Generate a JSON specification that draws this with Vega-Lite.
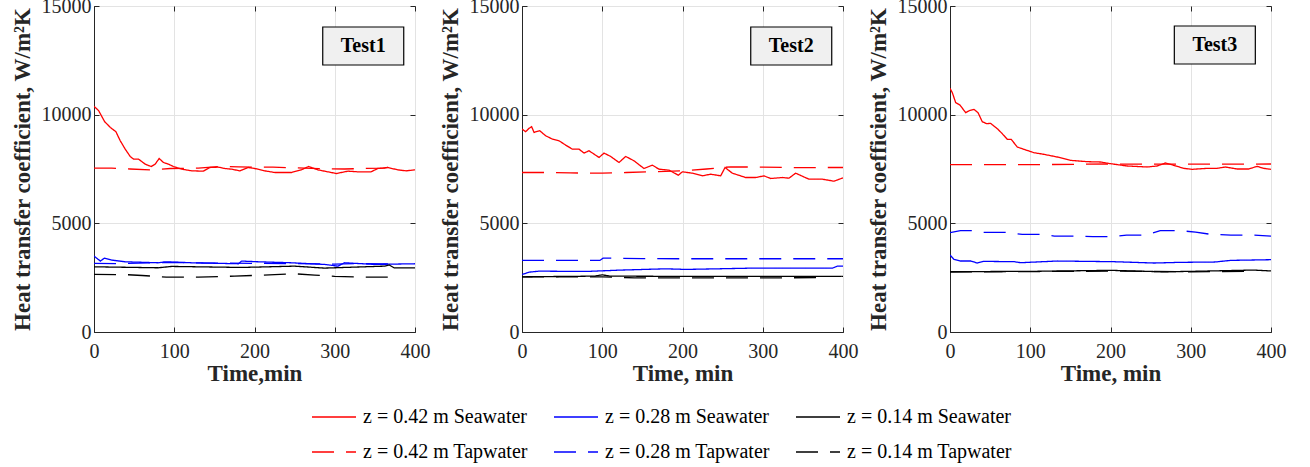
{
  "$schema": "https://vega.github.io/schema/vega-lite/v6.json",
  "padding": {"left": 10, "top": -5, "right": 5, "bottom": 5},
  "spacing": 107,
  "bounds": "flush",
  "config": {
    "view": {"stroke": "#262626", "strokeWidth": 1},
    "axis": {
      "labelFont": "Liberation Serif", "labelFontSize": 20, "labelColor": "#262626",
      "titleFont": "Liberation Serif", "titleFontSize": 23, "titleFontWeight": "bold", "titleColor": "#262626",
      "domainColor": "#262626", "tickColor": "#262626", "tickSize": -5,
      "gridColor": "#e3e3e3", "grid": true
    },
    "axisY": {"titlePadding": 7, "labelPadding": 8},
    "axisX": {"titlePadding": 1, "labelPadding": 14, "labelFlush": false}
  },
  "datasets": {
    "labels": [
      {"test": "Test1", "x": 335.5, "y": 13160},
      {"test": "Test2", "x": 335.5, "y": 13160},
      {"test": "Test3", "x": 330, "y": 13206}
    ],
    "series": [
      {"test":"Test1","series":"z = 0.42 m Seawater","t":0,"h":10385},
      {"test":"Test1","series":"z = 0.42 m Seawater","t":5.8,"h":10185},
      {"test":"Test1","series":"z = 0.42 m Seawater","t":13.3,"h":9677},
      {"test":"Test1","series":"z = 0.42 m Seawater","t":20.3,"h":9415},
      {"test":"Test1","series":"z = 0.42 m Seawater","t":27.3,"h":9215},
      {"test":"Test1","series":"z = 0.42 m Seawater","t":32.7,"h":8800},
      {"test":"Test1","series":"z = 0.42 m Seawater","t":38.9,"h":8415},
      {"test":"Test1","series":"z = 0.42 m Seawater","t":45.1,"h":8077},
      {"test":"Test1","series":"z = 0.42 m Seawater","t":49.3,"h":7954},
      {"test":"Test1","series":"z = 0.42 m Seawater","t":55.5,"h":7954},
      {"test":"Test1","series":"z = 0.42 m Seawater","t":63.8,"h":7723},
      {"test":"Test1","series":"z = 0.42 m Seawater","t":71.2,"h":7615},
      {"test":"Test1","series":"z = 0.42 m Seawater","t":76.2,"h":7723},
      {"test":"Test1","series":"z = 0.42 m Seawater","t":81.2,"h":7985},
      {"test":"Test1","series":"z = 0.42 m Seawater","t":86.5,"h":7800},
      {"test":"Test1","series":"z = 0.42 m Seawater","t":92.8,"h":7723},
      {"test":"Test1","series":"z = 0.42 m Seawater","t":99,"h":7615},
      {"test":"Test1","series":"z = 0.42 m Seawater","t":109.3,"h":7492},
      {"test":"Test1","series":"z = 0.42 m Seawater","t":121.7,"h":7415},
      {"test":"Test1","series":"z = 0.42 m Seawater","t":136.2,"h":7400},
      {"test":"Test1","series":"z = 0.42 m Seawater","t":144.5,"h":7570},
      {"test":"Test1","series":"z = 0.42 m Seawater","t":154.9,"h":7585},
      {"test":"Test1","series":"z = 0.42 m Seawater","t":163.1,"h":7523},
      {"test":"Test1","series":"z = 0.42 m Seawater","t":171.4,"h":7492},
      {"test":"Test1","series":"z = 0.42 m Seawater","t":181.8,"h":7415},
      {"test":"Test1","series":"z = 0.42 m Seawater","t":192.1,"h":7570},
      {"test":"Test1","series":"z = 0.42 m Seawater","t":200.4,"h":7523},
      {"test":"Test1","series":"z = 0.42 m Seawater","t":212.8,"h":7415},
      {"test":"Test1","series":"z = 0.42 m Seawater","t":225.3,"h":7338},
      {"test":"Test1","series":"z = 0.42 m Seawater","t":246,"h":7338},
      {"test":"Test1","series":"z = 0.42 m Seawater","t":258.4,"h":7461},
      {"test":"Test1","series":"z = 0.42 m Seawater","t":267.5,"h":7615},
      {"test":"Test1","series":"z = 0.42 m Seawater","t":279,"h":7461},
      {"test":"Test1","series":"z = 0.42 m Seawater","t":291.5,"h":7370},
      {"test":"Test1","series":"z = 0.42 m Seawater","t":301.9,"h":7292},
      {"test":"Test1","series":"z = 0.42 m Seawater","t":316.4,"h":7400},
      {"test":"Test1","series":"z = 0.42 m Seawater","t":328.8,"h":7370},
      {"test":"Test1","series":"z = 0.42 m Seawater","t":345.3,"h":7370},
      {"test":"Test1","series":"z = 0.42 m Seawater","t":353.6,"h":7523},
      {"test":"Test1","series":"z = 0.42 m Seawater","t":366,"h":7570},
      {"test":"Test1","series":"z = 0.42 m Seawater","t":378.5,"h":7461},
      {"test":"Test1","series":"z = 0.42 m Seawater","t":388.8,"h":7415},
      {"test":"Test1","series":"z = 0.42 m Seawater","t":400,"h":7461},

      {"test":"Test1","series":"z = 0.42 m Tapwater","t":0,"h":7540},
      {"test":"Test1","series":"z = 0.42 m Tapwater","t":22,"h":7540},
      {"test":"Test1","series":"z = 0.42 m Tapwater","t":45,"h":7500},
      {"test":"Test1","series":"z = 0.42 m Tapwater","t":70,"h":7462},
      {"test":"Test1","series":"z = 0.42 m Tapwater","t":95,"h":7523},
      {"test":"Test1","series":"z = 0.42 m Tapwater","t":130,"h":7540},
      {"test":"Test1","series":"z = 0.42 m Tapwater","t":155,"h":7615},
      {"test":"Test1","series":"z = 0.42 m Tapwater","t":180,"h":7600},
      {"test":"Test1","series":"z = 0.42 m Tapwater","t":200,"h":7585},
      {"test":"Test1","series":"z = 0.42 m Tapwater","t":223,"h":7585},
      {"test":"Test1","series":"z = 0.42 m Tapwater","t":250,"h":7555},
      {"test":"Test1","series":"z = 0.42 m Tapwater","t":280,"h":7520},
      {"test":"Test1","series":"z = 0.42 m Tapwater","t":312,"h":7500},
      {"test":"Test1","series":"z = 0.42 m Tapwater","t":337,"h":7523},
      {"test":"Test1","series":"z = 0.42 m Tapwater","t":362,"h":7540},
      {"test":"Test1","series":"z = 0.42 m Tapwater","t":380,"h":7677},

      {"test":"Test1","series":"z = 0.28 m Seawater","t":0,"h":3494},
      {"test":"Test1","series":"z = 0.28 m Seawater","t":8,"h":3263},
      {"test":"Test1","series":"z = 0.28 m Seawater","t":13,"h":3400},
      {"test":"Test1","series":"z = 0.28 m Seawater","t":22,"h":3310},
      {"test":"Test1","series":"z = 0.28 m Seawater","t":39,"h":3230},
      {"test":"Test1","series":"z = 0.28 m Seawater","t":80,"h":3185},
      {"test":"Test1","series":"z = 0.28 m Seawater","t":89,"h":3230},
      {"test":"Test1","series":"z = 0.28 m Seawater","t":122,"h":3185},
      {"test":"Test1","series":"z = 0.28 m Seawater","t":180,"h":3140},
      {"test":"Test1","series":"z = 0.28 m Seawater","t":184,"h":3263},
      {"test":"Test1","series":"z = 0.28 m Seawater","t":205,"h":3230},
      {"test":"Test1","series":"z = 0.28 m Seawater","t":246,"h":3185},
      {"test":"Test1","series":"z = 0.28 m Seawater","t":287,"h":3110},
      {"test":"Test1","series":"z = 0.28 m Seawater","t":304,"h":3030},
      {"test":"Test1","series":"z = 0.28 m Seawater","t":312,"h":3185},
      {"test":"Test1","series":"z = 0.28 m Seawater","t":350,"h":3110},
      {"test":"Test1","series":"z = 0.28 m Seawater","t":400,"h":3140},

      {"test":"Test1","series":"z = 0.28 m Tapwater","t":0,"h":3155},
      {"test":"Test1","series":"z = 0.28 m Tapwater","t":30,"h":3150},
      {"test":"Test1","series":"z = 0.28 m Tapwater","t":100,"h":3200},
      {"test":"Test1","series":"z = 0.28 m Tapwater","t":150,"h":3170},
      {"test":"Test1","series":"z = 0.28 m Tapwater","t":200,"h":3160},
      {"test":"Test1","series":"z = 0.28 m Tapwater","t":250,"h":3150},
      {"test":"Test1","series":"z = 0.28 m Tapwater","t":300,"h":3120},
      {"test":"Test1","series":"z = 0.28 m Tapwater","t":330,"h":3150},
      {"test":"Test1","series":"z = 0.28 m Tapwater","t":380,"h":3120},

      {"test":"Test1","series":"z = 0.14 m Seawater","t":0,"h":3000},
      {"test":"Test1","series":"z = 0.14 m Seawater","t":80,"h":2955},
      {"test":"Test1","series":"z = 0.14 m Seawater","t":97,"h":3017},
      {"test":"Test1","series":"z = 0.14 m Seawater","t":184,"h":2970},
      {"test":"Test1","series":"z = 0.14 m Seawater","t":250,"h":3030},
      {"test":"Test1","series":"z = 0.14 m Seawater","t":287,"h":2940},
      {"test":"Test1","series":"z = 0.14 m Seawater","t":362,"h":3030},
      {"test":"Test1","series":"z = 0.14 m Seawater","t":368,"h":3080},
      {"test":"Test1","series":"z = 0.14 m Seawater","t":374,"h":2955},
      {"test":"Test1","series":"z = 0.14 m Seawater","t":400,"h":2955},

      {"test":"Test1","series":"z = 0.14 m Tapwater","t":0,"h":2648},
      {"test":"Test1","series":"z = 0.14 m Tapwater","t":40,"h":2640},
      {"test":"Test1","series":"z = 0.14 m Tapwater","t":60,"h":2600},
      {"test":"Test1","series":"z = 0.14 m Tapwater","t":90,"h":2525},
      {"test":"Test1","series":"z = 0.14 m Tapwater","t":130,"h":2525},
      {"test":"Test1","series":"z = 0.14 m Tapwater","t":175,"h":2570},
      {"test":"Test1","series":"z = 0.14 m Tapwater","t":225,"h":2640},
      {"test":"Test1","series":"z = 0.14 m Tapwater","t":250,"h":2678},
      {"test":"Test1","series":"z = 0.14 m Tapwater","t":275,"h":2620},
      {"test":"Test1","series":"z = 0.14 m Tapwater","t":300,"h":2560},
      {"test":"Test1","series":"z = 0.14 m Tapwater","t":330,"h":2525},
      {"test":"Test1","series":"z = 0.14 m Tapwater","t":380,"h":2525},

      {"test":"Test2","series":"z = 0.42 m Seawater","t":0,"h":9339},
      {"test":"Test2","series":"z = 0.42 m Seawater","t":4.6,"h":9215},
      {"test":"Test2","series":"z = 0.42 m Seawater","t":8.7,"h":9370},
      {"test":"Test2","series":"z = 0.42 m Seawater","t":12,"h":9446},
      {"test":"Test2","series":"z = 0.42 m Seawater","t":15,"h":9185},
      {"test":"Test2","series":"z = 0.42 m Seawater","t":22,"h":9262},
      {"test":"Test2","series":"z = 0.42 m Seawater","t":29.5,"h":9031},
      {"test":"Test2","series":"z = 0.42 m Seawater","t":37.8,"h":8877},
      {"test":"Test2","series":"z = 0.42 m Seawater","t":46.1,"h":8800},
      {"test":"Test2","series":"z = 0.42 m Seawater","t":54.4,"h":8600},
      {"test":"Test2","series":"z = 0.42 m Seawater","t":62.7,"h":8415},
      {"test":"Test2","series":"z = 0.42 m Seawater","t":71,"h":8415},
      {"test":"Test2","series":"z = 0.42 m Seawater","t":77.3,"h":8231},
      {"test":"Test2","series":"z = 0.42 m Seawater","t":83.5,"h":8339},
      {"test":"Test2","series":"z = 0.42 m Seawater","t":96,"h":8031},
      {"test":"Test2","series":"z = 0.42 m Seawater","t":102.2,"h":8231},
      {"test":"Test2","series":"z = 0.42 m Seawater","t":110.5,"h":8077},
      {"test":"Test2","series":"z = 0.42 m Seawater","t":120.9,"h":7800},
      {"test":"Test2","series":"z = 0.42 m Seawater","t":129.2,"h":8077},
      {"test":"Test2","series":"z = 0.42 m Seawater","t":139.6,"h":7877},
      {"test":"Test2","series":"z = 0.42 m Seawater","t":152,"h":7523},
      {"test":"Test2","series":"z = 0.42 m Seawater","t":162.4,"h":7677},
      {"test":"Test2","series":"z = 0.42 m Seawater","t":170.7,"h":7492},
      {"test":"Test2","series":"z = 0.42 m Seawater","t":183.2,"h":7446},
      {"test":"Test2","series":"z = 0.42 m Seawater","t":194.8,"h":7215},
      {"test":"Test2","series":"z = 0.42 m Seawater","t":199.8,"h":7370},
      {"test":"Test2","series":"z = 0.42 m Seawater","t":212.3,"h":7308},
      {"test":"Test2","series":"z = 0.42 m Seawater","t":224.7,"h":7185},
      {"test":"Test2","series":"z = 0.42 m Seawater","t":235.1,"h":7262},
      {"test":"Test2","series":"z = 0.42 m Seawater","t":247.6,"h":7185},
      {"test":"Test2","series":"z = 0.42 m Seawater","t":253,"h":7569},
      {"test":"Test2","series":"z = 0.42 m Seawater","t":262.1,"h":7308},
      {"test":"Test2","series":"z = 0.42 m Seawater","t":278.7,"h":7108},
      {"test":"Test2","series":"z = 0.42 m Seawater","t":291.2,"h":7108},
      {"test":"Test2","series":"z = 0.42 m Seawater","t":301.6,"h":7185},
      {"test":"Test2","series":"z = 0.42 m Seawater","t":309.9,"h":7062},
      {"test":"Test2","series":"z = 0.42 m Seawater","t":324.4,"h":7108},
      {"test":"Test2","series":"z = 0.42 m Seawater","t":332.7,"h":7077},
      {"test":"Test2","series":"z = 0.42 m Seawater","t":341,"h":7308},
      {"test":"Test2","series":"z = 0.42 m Seawater","t":357.6,"h":7031},
      {"test":"Test2","series":"z = 0.42 m Seawater","t":374.3,"h":7031},
      {"test":"Test2","series":"z = 0.42 m Seawater","t":388.8,"h":6939},
      {"test":"Test2","series":"z = 0.42 m Seawater","t":400,"h":7092},

      {"test":"Test2","series":"z = 0.42 m Tapwater","t":0,"h":7339},
      {"test":"Test2","series":"z = 0.42 m Tapwater","t":30,"h":7339},
      {"test":"Test2","series":"z = 0.42 m Tapwater","t":60,"h":7320},
      {"test":"Test2","series":"z = 0.42 m Tapwater","t":100,"h":7308},
      {"test":"Test2","series":"z = 0.42 m Tapwater","t":130,"h":7340},
      {"test":"Test2","series":"z = 0.42 m Tapwater","t":160,"h":7370},
      {"test":"Test2","series":"z = 0.42 m Tapwater","t":200,"h":7415},
      {"test":"Test2","series":"z = 0.42 m Tapwater","t":230,"h":7500},
      {"test":"Test2","series":"z = 0.42 m Tapwater","t":260,"h":7600},
      {"test":"Test2","series":"z = 0.42 m Tapwater","t":300,"h":7585},
      {"test":"Test2","series":"z = 0.42 m Tapwater","t":340,"h":7560},
      {"test":"Test2","series":"z = 0.42 m Tapwater","t":380,"h":7570},
      {"test":"Test2","series":"z = 0.42 m Tapwater","t":400,"h":7570},

      {"test":"Test2","series":"z = 0.28 m Seawater","t":0,"h":2646},
      {"test":"Test2","series":"z = 0.28 m Seawater","t":9,"h":2754},
      {"test":"Test2","series":"z = 0.28 m Seawater","t":21,"h":2800},
      {"test":"Test2","series":"z = 0.28 m Seawater","t":80,"h":2785},
      {"test":"Test2","series":"z = 0.28 m Seawater","t":121,"h":2846},
      {"test":"Test2","series":"z = 0.28 m Seawater","t":179,"h":2908},
      {"test":"Test2","series":"z = 0.28 m Seawater","t":204,"h":2880},
      {"test":"Test2","series":"z = 0.28 m Seawater","t":245,"h":2908},
      {"test":"Test2","series":"z = 0.28 m Seawater","t":287,"h":2939},
      {"test":"Test2","series":"z = 0.28 m Seawater","t":387,"h":2939},
      {"test":"Test2","series":"z = 0.28 m Seawater","t":393,"h":3031},
      {"test":"Test2","series":"z = 0.28 m Seawater","t":400,"h":3031},

      {"test":"Test2","series":"z = 0.28 m Tapwater","t":0,"h":3294},
      {"test":"Test2","series":"z = 0.28 m Tapwater","t":97,"h":3294},
      {"test":"Test2","series":"z = 0.28 m Tapwater","t":101,"h":3400},
      {"test":"Test2","series":"z = 0.28 m Tapwater","t":150,"h":3380},
      {"test":"Test2","series":"z = 0.28 m Tapwater","t":200,"h":3370},
      {"test":"Test2","series":"z = 0.28 m Tapwater","t":300,"h":3370},
      {"test":"Test2","series":"z = 0.28 m Tapwater","t":400,"h":3370},

      {"test":"Test2","series":"z = 0.14 m Seawater","t":0,"h":2539},
      {"test":"Test2","series":"z = 0.14 m Seawater","t":90,"h":2570},
      {"test":"Test2","series":"z = 0.14 m Seawater","t":100,"h":2631},
      {"test":"Test2","series":"z = 0.14 m Seawater","t":110,"h":2570},
      {"test":"Test2","series":"z = 0.14 m Seawater","t":200,"h":2560},
      {"test":"Test2","series":"z = 0.14 m Seawater","t":300,"h":2555},
      {"test":"Test2","series":"z = 0.14 m Seawater","t":400,"h":2555},

      {"test":"Test2","series":"z = 0.14 m Tapwater","t":0,"h":2540},
      {"test":"Test2","series":"z = 0.14 m Tapwater","t":100,"h":2540},
      {"test":"Test2","series":"z = 0.14 m Tapwater","t":140,"h":2492},
      {"test":"Test2","series":"z = 0.14 m Tapwater","t":200,"h":2492},
      {"test":"Test2","series":"z = 0.14 m Tapwater","t":300,"h":2492},
      {"test":"Test2","series":"z = 0.14 m Tapwater","t":380,"h":2500},

      {"test":"Test3","series":"z = 0.42 m Seawater","t":0,"h":11212},
      {"test":"Test3","series":"z = 0.42 m Seawater","t":2.9,"h":11012},
      {"test":"Test3","series":"z = 0.42 m Seawater","t":7.1,"h":10552},
      {"test":"Test3","series":"z = 0.42 m Seawater","t":12.4,"h":10445},
      {"test":"Test3","series":"z = 0.42 m Seawater","t":19.5,"h":10092},
      {"test":"Test3","series":"z = 0.42 m Seawater","t":24.9,"h":10199},
      {"test":"Test3","series":"z = 0.42 m Seawater","t":29.9,"h":10245},
      {"test":"Test3","series":"z = 0.42 m Seawater","t":34.9,"h":10092},
      {"test":"Test3","series":"z = 0.42 m Seawater","t":40.2,"h":9678},
      {"test":"Test3","series":"z = 0.42 m Seawater","t":45.6,"h":9586},
      {"test":"Test3","series":"z = 0.42 m Seawater","t":50.6,"h":9600},
      {"test":"Test3","series":"z = 0.42 m Seawater","t":58.9,"h":9356},
      {"test":"Test3","series":"z = 0.42 m Seawater","t":65.1,"h":9126},
      {"test":"Test3","series":"z = 0.42 m Seawater","t":71.4,"h":8865},
      {"test":"Test3","series":"z = 0.42 m Seawater","t":76.3,"h":8865},
      {"test":"Test3","series":"z = 0.42 m Seawater","t":83.8,"h":8512},
      {"test":"Test3","series":"z = 0.42 m Seawater","t":92.1,"h":8405},
      {"test":"Test3","series":"z = 0.42 m Seawater","t":104.6,"h":8251},
      {"test":"Test3","series":"z = 0.42 m Seawater","t":117,"h":8175},
      {"test":"Test3","series":"z = 0.42 m Seawater","t":133.6,"h":8052},
      {"test":"Test3","series":"z = 0.42 m Seawater","t":150.2,"h":7898},
      {"test":"Test3","series":"z = 0.42 m Seawater","t":171,"h":7837},
      {"test":"Test3","series":"z = 0.42 m Seawater","t":187.6,"h":7822},
      {"test":"Test3","series":"z = 0.42 m Seawater","t":200,"h":7745},
      {"test":"Test3","series":"z = 0.42 m Seawater","t":220.7,"h":7638},
      {"test":"Test3","series":"z = 0.42 m Seawater","t":245.6,"h":7592},
      {"test":"Test3","series":"z = 0.42 m Seawater","t":258.1,"h":7638},
      {"test":"Test3","series":"z = 0.42 m Seawater","t":268.5,"h":7776},
      {"test":"Test3","series":"z = 0.42 m Seawater","t":278.8,"h":7669},
      {"test":"Test3","series":"z = 0.42 m Seawater","t":291.3,"h":7530},
      {"test":"Test3","series":"z = 0.42 m Seawater","t":301.7,"h":7484},
      {"test":"Test3","series":"z = 0.42 m Seawater","t":320.3,"h":7530},
      {"test":"Test3","series":"z = 0.42 m Seawater","t":332.8,"h":7530},
      {"test":"Test3","series":"z = 0.42 m Seawater","t":343.2,"h":7592},
      {"test":"Test3","series":"z = 0.42 m Seawater","t":357.7,"h":7500},
      {"test":"Test3","series":"z = 0.42 m Seawater","t":372.2,"h":7500},
      {"test":"Test3","series":"z = 0.42 m Seawater","t":382.6,"h":7622},
      {"test":"Test3","series":"z = 0.42 m Seawater","t":390.9,"h":7530},
      {"test":"Test3","series":"z = 0.42 m Seawater","t":400,"h":7484},

      {"test":"Test3","series":"z = 0.42 m Tapwater","t":0,"h":7700},
      {"test":"Test3","series":"z = 0.42 m Tapwater","t":100,"h":7700},
      {"test":"Test3","series":"z = 0.42 m Tapwater","t":200,"h":7730},
      {"test":"Test3","series":"z = 0.42 m Tapwater","t":300,"h":7720},
      {"test":"Test3","series":"z = 0.42 m Tapwater","t":400,"h":7730},

      {"test":"Test3","series":"z = 0.28 m Seawater","t":0,"h":3542},
      {"test":"Test3","series":"z = 0.28 m Seawater","t":5,"h":3342},
      {"test":"Test3","series":"z = 0.28 m Seawater","t":13,"h":3266},
      {"test":"Test3","series":"z = 0.28 m Seawater","t":26,"h":3266},
      {"test":"Test3","series":"z = 0.28 m Seawater","t":34,"h":3174},
      {"test":"Test3","series":"z = 0.28 m Seawater","t":42,"h":3250},
      {"test":"Test3","series":"z = 0.28 m Seawater","t":80,"h":3235},
      {"test":"Test3","series":"z = 0.28 m Seawater","t":88,"h":3189},
      {"test":"Test3","series":"z = 0.28 m Seawater","t":134,"h":3266},
      {"test":"Test3","series":"z = 0.28 m Seawater","t":204,"h":3235},
      {"test":"Test3","series":"z = 0.28 m Seawater","t":254,"h":3174},
      {"test":"Test3","series":"z = 0.28 m Seawater","t":287,"h":3205},
      {"test":"Test3","series":"z = 0.28 m Seawater","t":330,"h":3220},
      {"test":"Test3","series":"z = 0.28 m Seawater","t":350,"h":3296},
      {"test":"Test3","series":"z = 0.28 m Seawater","t":400,"h":3327},

      {"test":"Test3","series":"z = 0.28 m Tapwater","t":0,"h":4570},
      {"test":"Test3","series":"z = 0.28 m Tapwater","t":13,"h":4662},
      {"test":"Test3","series":"z = 0.28 m Tapwater","t":28,"h":4662},
      {"test":"Test3","series":"z = 0.28 m Tapwater","t":42,"h":4585},
      {"test":"Test3","series":"z = 0.28 m Tapwater","t":70,"h":4585},
      {"test":"Test3","series":"z = 0.28 m Tapwater","t":90,"h":4493},
      {"test":"Test3","series":"z = 0.28 m Tapwater","t":115,"h":4493},
      {"test":"Test3","series":"z = 0.28 m Tapwater","t":130,"h":4416},
      {"test":"Test3","series":"z = 0.28 m Tapwater","t":160,"h":4416},
      {"test":"Test3","series":"z = 0.28 m Tapwater","t":178,"h":4386},
      {"test":"Test3","series":"z = 0.28 m Tapwater","t":202,"h":4386},
      {"test":"Test3","series":"z = 0.28 m Tapwater","t":220,"h":4462},
      {"test":"Test3","series":"z = 0.28 m Tapwater","t":245,"h":4462},
      {"test":"Test3","series":"z = 0.28 m Tapwater","t":262,"h":4662},
      {"test":"Test3","series":"z = 0.28 m Tapwater","t":287,"h":4662},
      {"test":"Test3","series":"z = 0.28 m Tapwater","t":306,"h":4600},
      {"test":"Test3","series":"z = 0.28 m Tapwater","t":325,"h":4493},
      {"test":"Test3","series":"z = 0.28 m Tapwater","t":350,"h":4462},
      {"test":"Test3","series":"z = 0.28 m Tapwater","t":376,"h":4462},
      {"test":"Test3","series":"z = 0.28 m Tapwater","t":400,"h":4416},

      {"test":"Test3","series":"z = 0.14 m Seawater","t":0,"h":2775},
      {"test":"Test3","series":"z = 0.14 m Seawater","t":100,"h":2790},
      {"test":"Test3","series":"z = 0.14 m Seawater","t":200,"h":2837},
      {"test":"Test3","series":"z = 0.14 m Seawater","t":266,"h":2770},
      {"test":"Test3","series":"z = 0.14 m Seawater","t":300,"h":2790},
      {"test":"Test3","series":"z = 0.14 m Seawater","t":378,"h":2850},
      {"test":"Test3","series":"z = 0.14 m Seawater","t":400,"h":2810},

      {"test":"Test3","series":"z = 0.14 m Tapwater","t":0,"h":2760},
      {"test":"Test3","series":"z = 0.14 m Tapwater","t":100,"h":2780},
      {"test":"Test3","series":"z = 0.14 m Tapwater","t":200,"h":2800},
      {"test":"Test3","series":"z = 0.14 m Tapwater","t":300,"h":2770},
      {"test":"Test3","series":"z = 0.14 m Tapwater","t":380,"h":2790}
    ]
  },
  "hconcat": [
    {
      "width": 321, "height": 326,
      "resolve": {"axis": {"x": "independent", "y": "independent"}},
      "layer": [
        {
          "data": {"name": "series"},
          "transform": [{"filter": "datum.test === 'Test1'"}],
          "mark": {"type": "line", "strokeWidth": 1.3, "clip": true},
          "encoding": {
            "x": {"field": "t", "type": "quantitative", "scale": {"domain": [0, 400], "nice": false}, "axis": {"values": [0, 100, 200, 300, 400], "title": "Time,min"}},
            "y": {"field": "h", "type": "quantitative", "scale": {"domain": [0, 15000], "nice": false}, "axis": {"values": [0, 5000, 10000, 15000], "format": "d", "title": "Heat transfer coefficient, W/m²K"}},
            "color": {"field": "series", "type": "nominal",
              "scale": {"domain": ["z = 0.42 m Seawater", "z = 0.42 m Tapwater", "z = 0.28 m Seawater", "z = 0.28 m Tapwater", "z = 0.14 m Seawater", "z = 0.14 m Tapwater"], "range": ["#ff0000", "#ff0000", "#0000ff", "#0000ff", "#000000", "#000000"]},
              "legend": {"title": null, "orient": "none", "legendX": 217, "legendY": 388, "columns": 3, "symbolType": "stroke", "symbolSize": 1936, "symbolStrokeWidth": 1.3, "labelFont": "Liberation Serif", "labelFontSize": 20, "labelColor": "#000000", "labelOffset": 6, "columnPadding": 23, "rowPadding": 2, "labelLimit": 300}},
            "strokeDash": {"field": "series", "type": "nominal",
              "scale": {"domain": ["z = 0.42 m Seawater", "z = 0.42 m Tapwater", "z = 0.28 m Seawater", "z = 0.28 m Tapwater", "z = 0.14 m Seawater", "z = 0.14 m Tapwater"], "range": [[1, 0], [22, 12], [1, 0], [22, 12], [1, 0], [22, 12]]},
              "legend": {"title": null, "orient": "none", "legendX": 217, "legendY": 388, "columns": 3, "symbolType": "stroke", "symbolSize": 1936, "symbolStrokeWidth": 1.3, "labelFont": "Liberation Serif", "labelFontSize": 20, "labelColor": "#000000", "labelOffset": 6, "columnPadding": 23, "rowPadding": 2, "labelLimit": 300}}
          }
        },
        {
          "data": {"name": "labels"},
          "transform": [{"filter": "datum.test === 'Test1'"}],
          "mark": {"type": "point", "shape": "M-1,-0.469H1V0.469H-1Z", "size": 6561, "filled": true, "fill": "#f0f0f0", "stroke": "#000000", "strokeWidth": 1.2, "opacity": 1},
          "encoding": {
            "x": {"field": "x", "type": "quantitative", "scale": {"domain": [0, 400], "nice": false}, "axis": {"orient": "top", "values": [0, 100, 200, 300, 400], "labels": false, "title": null, "grid": false, "domain": false}},
            "y": {"field": "y", "type": "quantitative", "scale": {"domain": [0, 15000], "nice": false}, "axis": {"orient": "right", "values": [0, 5000, 10000, 15000], "labels": false, "title": null, "grid": false, "domain": false}}
          }
        },
        {
          "data": {"name": "labels"},
          "transform": [{"filter": "datum.test === 'Test1'"}],
          "mark": {"type": "text", "font": "Liberation Serif", "fontWeight": "bold", "fontSize": 20, "color": "#000000"},
          "encoding": {
            "x": {"field": "x", "type": "quantitative", "scale": {"domain": [0, 400], "nice": false}, "axis": null},
            "y": {"field": "y", "type": "quantitative", "scale": {"domain": [0, 15000], "nice": false}, "axis": null},
            "text": {"field": "test"}
          }
        }
      ]
    },
    {
      "width": 321, "height": 326,
      "resolve": {"axis": {"x": "independent", "y": "independent"}},
      "layer": [
        {
          "data": {"name": "series"},
          "transform": [{"filter": "datum.test === 'Test2'"}],
          "mark": {"type": "line", "strokeWidth": 1.3, "clip": true},
          "encoding": {
            "x": {"field": "t", "type": "quantitative", "scale": {"domain": [0, 400], "nice": false}, "axis": {"values": [0, 100, 200, 300, 400], "title": "Time, min"}},
            "y": {"field": "h", "type": "quantitative", "scale": {"domain": [0, 15000], "nice": false}, "axis": {"values": [0, 5000, 10000, 15000], "format": "d", "title": "Heat transfer coefficient, W/m²K"}},
            "color": {"field": "series", "type": "nominal",
              "scale": {"domain": ["z = 0.42 m Seawater", "z = 0.42 m Tapwater", "z = 0.28 m Seawater", "z = 0.28 m Tapwater", "z = 0.14 m Seawater", "z = 0.14 m Tapwater"], "range": ["#ff0000", "#ff0000", "#0000ff", "#0000ff", "#000000", "#000000"]},
              "legend": {"title": null, "orient": "none", "legendX": 217, "legendY": 388, "columns": 3, "symbolType": "stroke", "symbolSize": 1936, "symbolStrokeWidth": 1.3, "labelFont": "Liberation Serif", "labelFontSize": 20, "labelColor": "#000000", "labelOffset": 6, "columnPadding": 23, "rowPadding": 2, "labelLimit": 300}},
            "strokeDash": {"field": "series", "type": "nominal",
              "scale": {"domain": ["z = 0.42 m Seawater", "z = 0.42 m Tapwater", "z = 0.28 m Seawater", "z = 0.28 m Tapwater", "z = 0.14 m Seawater", "z = 0.14 m Tapwater"], "range": [[1, 0], [22, 12], [1, 0], [22, 12], [1, 0], [22, 12]]},
              "legend": {"title": null, "orient": "none", "legendX": 217, "legendY": 388, "columns": 3, "symbolType": "stroke", "symbolSize": 1936, "symbolStrokeWidth": 1.3, "labelFont": "Liberation Serif", "labelFontSize": 20, "labelColor": "#000000", "labelOffset": 6, "columnPadding": 23, "rowPadding": 2, "labelLimit": 300}}
          }
        },
        {
          "data": {"name": "labels"},
          "transform": [{"filter": "datum.test === 'Test2'"}],
          "mark": {"type": "point", "shape": "M-1,-0.469H1V0.469H-1Z", "size": 6561, "filled": true, "fill": "#f0f0f0", "stroke": "#000000", "strokeWidth": 1.2, "opacity": 1},
          "encoding": {
            "x": {"field": "x", "type": "quantitative", "scale": {"domain": [0, 400], "nice": false}, "axis": {"orient": "top", "values": [0, 100, 200, 300, 400], "labels": false, "title": null, "grid": false, "domain": false}},
            "y": {"field": "y", "type": "quantitative", "scale": {"domain": [0, 15000], "nice": false}, "axis": {"orient": "right", "values": [0, 5000, 10000, 15000], "labels": false, "title": null, "grid": false, "domain": false}}
          }
        },
        {
          "data": {"name": "labels"},
          "transform": [{"filter": "datum.test === 'Test2'"}],
          "mark": {"type": "text", "font": "Liberation Serif", "fontWeight": "bold", "fontSize": 20, "color": "#000000"},
          "encoding": {
            "x": {"field": "x", "type": "quantitative", "scale": {"domain": [0, 400], "nice": false}, "axis": null},
            "y": {"field": "y", "type": "quantitative", "scale": {"domain": [0, 15000], "nice": false}, "axis": null},
            "text": {"field": "test"}
          }
        }
      ]
    },
    {
      "width": 321, "height": 326,
      "resolve": {"axis": {"x": "independent", "y": "independent"}},
      "layer": [
        {
          "data": {"name": "series"},
          "transform": [{"filter": "datum.test === 'Test3'"}],
          "mark": {"type": "line", "strokeWidth": 1.3, "clip": true},
          "encoding": {
            "x": {"field": "t", "type": "quantitative", "scale": {"domain": [0, 400], "nice": false}, "axis": {"values": [0, 100, 200, 300, 400], "title": "Time, min"}},
            "y": {"field": "h", "type": "quantitative", "scale": {"domain": [0, 15000], "nice": false}, "axis": {"values": [0, 5000, 10000, 15000], "format": "d", "title": "Heat transfer coefficient, W/m²K"}},
            "color": {"field": "series", "type": "nominal",
              "scale": {"domain": ["z = 0.42 m Seawater", "z = 0.42 m Tapwater", "z = 0.28 m Seawater", "z = 0.28 m Tapwater", "z = 0.14 m Seawater", "z = 0.14 m Tapwater"], "range": ["#ff0000", "#ff0000", "#0000ff", "#0000ff", "#000000", "#000000"]},
              "legend": {"title": null, "orient": "none", "legendX": 217, "legendY": 388, "columns": 3, "symbolType": "stroke", "symbolSize": 1936, "symbolStrokeWidth": 1.3, "labelFont": "Liberation Serif", "labelFontSize": 20, "labelColor": "#000000", "labelOffset": 6, "columnPadding": 23, "rowPadding": 2, "labelLimit": 300}},
            "strokeDash": {"field": "series", "type": "nominal",
              "scale": {"domain": ["z = 0.42 m Seawater", "z = 0.42 m Tapwater", "z = 0.28 m Seawater", "z = 0.28 m Tapwater", "z = 0.14 m Seawater", "z = 0.14 m Tapwater"], "range": [[1, 0], [22, 12], [1, 0], [22, 12], [1, 0], [22, 12]]},
              "legend": {"title": null, "orient": "none", "legendX": 217, "legendY": 388, "columns": 3, "symbolType": "stroke", "symbolSize": 1936, "symbolStrokeWidth": 1.3, "labelFont": "Liberation Serif", "labelFontSize": 20, "labelColor": "#000000", "labelOffset": 6, "columnPadding": 23, "rowPadding": 2, "labelLimit": 300}}
          }
        },
        {
          "data": {"name": "labels"},
          "transform": [{"filter": "datum.test === 'Test3'"}],
          "mark": {"type": "point", "shape": "M-1,-0.469H1V0.469H-1Z", "size": 6561, "filled": true, "fill": "#f0f0f0", "stroke": "#000000", "strokeWidth": 1.2, "opacity": 1},
          "encoding": {
            "x": {"field": "x", "type": "quantitative", "scale": {"domain": [0, 400], "nice": false}, "axis": {"orient": "top", "values": [0, 100, 200, 300, 400], "labels": false, "title": null, "grid": false, "domain": false}},
            "y": {"field": "y", "type": "quantitative", "scale": {"domain": [0, 15000], "nice": false}, "axis": {"orient": "right", "values": [0, 5000, 10000, 15000], "labels": false, "title": null, "grid": false, "domain": false}}
          }
        },
        {
          "data": {"name": "labels"},
          "transform": [{"filter": "datum.test === 'Test3'"}],
          "mark": {"type": "text", "font": "Liberation Serif", "fontWeight": "bold", "fontSize": 20, "color": "#000000"},
          "encoding": {
            "x": {"field": "x", "type": "quantitative", "scale": {"domain": [0, 400], "nice": false}, "axis": null},
            "y": {"field": "y", "type": "quantitative", "scale": {"domain": [0, 15000], "nice": false}, "axis": null},
            "text": {"field": "test"}
          }
        }
      ]
    }
  ]
}
